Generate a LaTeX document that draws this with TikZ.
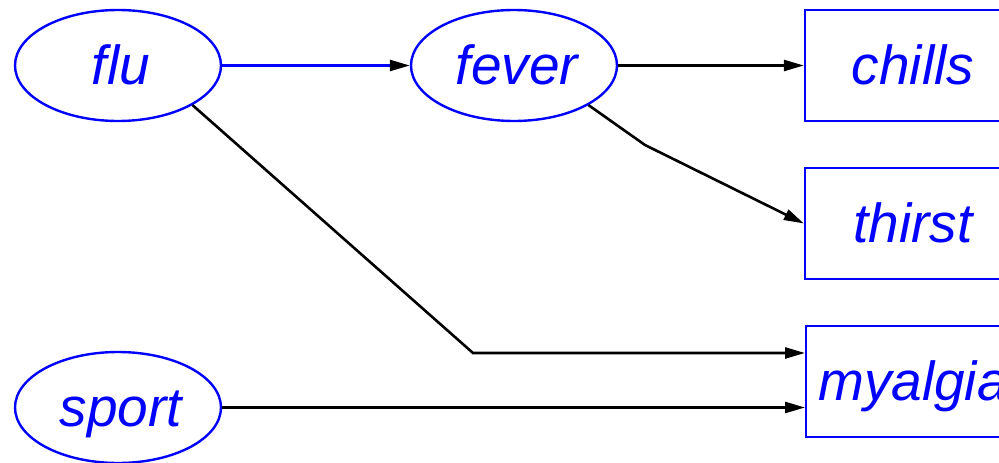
\documentclass[tikz,border=0pt]{standalone}
\usepackage{fontspec}
\setmainfont{Liberation Sans}
\usetikzlibrary{shapes.geometric,arrows.meta}
\begin{document}
\begin{tikzpicture}[x=1pt,y=-1pt,
  lbl/.style={text=blue,font=\fontsize{55}{60}\selectfont\itshape,text height=38pt,text depth=0pt},
  ell/.style={ellipse,draw=blue,line width=2.4pt,minimum width=206pt,minimum height=111pt,inner sep=0pt,lbl,execute at begin node={\hspace*{6pt}}},
  box/.style={rectangle,draw=blue,line width=2.4pt,minimum height=111pt,inner sep=0pt,lbl},
  conn/.style={line width=2.6pt,black,-{Triangle[length=20pt,width=11pt,color=black]}},
  ]
\useasboundingbox (0,0) rectangle (999,463);
\clip (0,0) rectangle (999,463);
\node[ell] (flu) at (118,65.5) {flu};
\node[ell] (fever) at (514,65.5) {fever};
\node[ell] (sport) at (118,407.5) {sport};
\node[box,minimum width=210pt,execute at begin node={\hspace*{6pt}}] (chills) at (910,65.5) {chills};
\node[box,minimum width=210pt,execute at begin node={\hspace*{6pt}}] (thirst) at (910,223.5) {thirst};
\node[box,minimum width=240pt,anchor=west,align=left,text width=228pt] (myalgia) at (805,381.5) {\hspace*{6pt}myalgia};
\coordinate (b1) at (645,145);
\coordinate (b2) at (473,353);
\draw[conn,draw=blue] (flu.east) -- (fever.west);
\draw[conn] (fever.east) -- (chills.west);
\draw[conn] (fever.-28) -- (b1) -- (thirst.west);
\draw[conn] (flu.-28) -- (b2) -- (b2 -| myalgia.west);
\draw[conn] (sport.east) -- (sport.east -| myalgia.west);
\end{tikzpicture}
\end{document}
